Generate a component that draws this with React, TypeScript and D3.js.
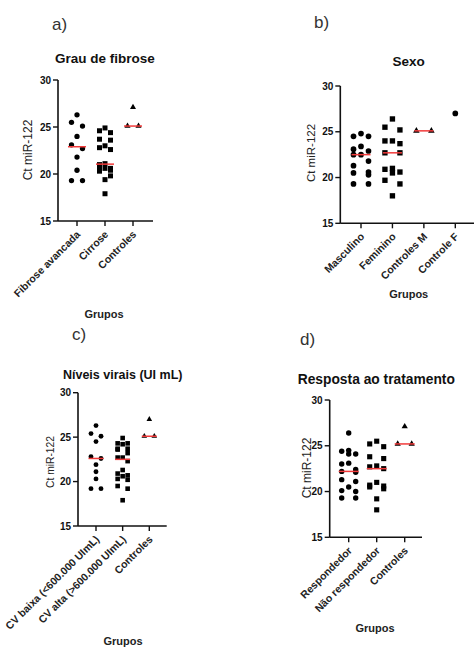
import React from 'react'
import * as d3 from 'd3'

const W = 474
const H = 647
const FONT = "'Liberation Sans', Arial, sans-serif"
const RED = '#f23a3a'

const yTicks = [15, 20, 25, 30]

// a) Grau de fibrose
const fibroseGroups = ['Fibrose avancada', 'Cirrose', 'Controles']
const fibroseAvancada = [26.3, 25.5, 25.1, 24.0, 23.1, 22.7, 21.8, 20.4, 19.3, 19.3]
const cirrose = [24.9, 24.6, 24.4, 23.7, 23.6, 23.0, 22.8, 22.6, 21.1, 21.0, 20.6, 20.6, 20.5, 20.4, 20.3, 19.8, 19.4, 17.9]
const controlesA = [27.1, 25.1, 25.1]

// b) Sexo
const sexoGroups = ['Masculino', 'Feminino', 'Controles M', 'Controle F']
const masculino = [24.8, 24.5, 24.5, 23.4, 23.1, 22.9, 22.5, 22.5, 21.8, 21.3, 20.6, 20.5, 20.3, 19.3, 19.3]
const feminino = [26.4, 25.5, 25.2, 24.0, 24.0, 23.7, 22.7, 22.7, 21.0, 20.9, 20.6, 20.5, 19.7, 19.3, 18.0]
const controlesM = [25.1, 25.1]
const controleF = [27.0]

// c) Niveis virais
const viraisGroups = ['CV baixa (<600.000 UImL)', 'CV alta (>600.000 UImL)', 'Controles']
const cvBaixa = [26.3, 25.4, 25.1, 24.5, 22.8, 22.6, 21.9, 21.1, 20.3, 19.2, 19.2]
const cvAlta = [24.9, 24.3, 24.3, 24.2, 23.7, 23.7, 23.6, 23.2, 22.7, 22.7, 22.3, 21.3, 20.9, 20.7, 20.6, 20.3, 20.2, 19.5, 19.2, 17.9]
const controlesC = [27.0, 25.1, 25.1]

// d) Resposta ao tratamento
const respostaGroups = ['Respondedor', 'Não respondedor', 'Controles']
const respondedor = [26.4, 24.5, 24.4, 24.1, 24.1, 23.1, 23.0, 22.4, 22.2, 22.1, 21.3, 21.1, 20.5, 20.1, 20.0, 19.3, 19.3]
const naoRespondedor = [25.5, 25.2, 24.9, 23.8, 23.6, 22.8, 22.7, 22.5, 21.0, 20.7, 20.6, 20.5, 20.3, 19.2, 18.0]
const controlesD = [27.1, 25.2, 25.2]

// rows of up to 3 points, spread sideways like a prism scatter
const swarm = (values, yScale, sp, gap = 6.5) => {
  const sorted = [...values].sort((a, b) => b - a)
  const rows = []
  sorted.forEach(v => {
    const row = rows[rows.length - 1]
    if (row && row.length < 3 && Math.abs(yScale(v) - yScale(row[0])) < gap) row.push(v)
    else rows.push([v])
  })
  return rows.flatMap(row => {
    const cols = row.length === 1 ? [0] : row.length === 2 ? [-1, 1] : [0, -1, 1]
    return row.map((v, i) => ({ v, dx: cols[i] * sp }))
  })
}

const symbolArea = { circle: 22, square: 25, triangle: 16 }
const symbolType = { circle: d3.symbolCircle, square: d3.symbolSquare, triangle: d3.symbolTriangle }

const Panel = ({ letter, title, groups, series, L }) => {
  const y = d3.scaleLinear().domain([15, 30]).range([L.y15, L.y30])
  const x = d3.scalePoint().domain(groups).range([L.x0, L.x1])

  return (
    <g style={{ fontFamily: FONT }}>
      <text x={L.letterX} y={L.letterY} fontSize={17} fill="#333">{letter}</text>
      <text x={L.titleX} y={L.titleY} fontSize={L.titleSize} fontWeight="bold" textAnchor="middle" fill="#111">{title}</text>

      {/* y axis */}
      <line x1={L.axisX} x2={L.axisX} y1={y(30)} y2={y(15)} stroke="#111" strokeWidth={1.6} />
      {yTicks.map(t => (
        <g key={t}>
          <line x1={L.axisX - 5} x2={L.axisX} y1={y(t)} y2={y(t)} stroke="#111" strokeWidth={1.4} />
          <text x={L.axisX - 7} y={y(t)} dy="0.35em" textAnchor="end" fontSize={10} fontWeight="bold" fill="#111">{t}</text>
        </g>
      ))}
      <text transform={`translate(${L.ylabelX}, ${L.ylabelY}) rotate(-90)`} dy="0.35em" textAnchor="middle" fontSize={L.ylabelSize} fill="#222">Ct miR-122</text>

      {/* x axis */}
      <line x1={L.axisX} x2={L.axisEnd} y1={y(15)} y2={y(15)} stroke="#111" strokeWidth={1.6} />
      {groups.map(g => (
        <g key={g}>
          <line x1={x(g)} x2={x(g)} y1={y(15)} y2={y(15) + 5} stroke="#111" strokeWidth={1.4} />
          <text transform={`translate(${x(g) + 4}, ${y(15) + 14}) rotate(-45)`} textAnchor="end" fontSize={L.tickSize} fontWeight="bold" fill="#222">{g}</text>
        </g>
      ))}
      <text x={L.gruposX} y={L.gruposY} textAnchor="middle" fontSize={11} fontWeight="bold" fill="#222">Grupos</text>

      {/* points and medians */}
      {series.map((s, gi) => {
        const cx = x(groups[gi])
        const pts = swarm(s.values, y, L.sp)
        const path = d3.symbol().type(symbolType[s.shape]).size(symbolArea[s.shape] * L.ms)()
        const med = d3.median(s.values)
        return (
          <g key={gi}>
            {pts.map((p, i) => (
              <path key={i} d={path} transform={`translate(${cx + p.dx}, ${y(p.v)})`} fill="#000" />
            ))}
            {s.values.length > 1 && (
              <line x1={cx - L.medW / 2} x2={cx + L.medW / 2} y1={y(med)} y2={y(med)} stroke={RED} strokeWidth={1.5} />
            )}
          </g>
        )
      })}
    </g>
  )
}

const layoutA = { axisX: 58, y15: 221, y30: 80, x0: 77, x1: 133, axisEnd: 153, sp: 5.5, ms: 1.0, medW: 18, titleX: 105, titleY: 63, titleSize: 13.5, letterX: 52, letterY: 30, ylabelX: 28, ylabelY: 150, ylabelSize: 12, gruposX: 104, gruposY: 318, tickSize: 10.5 }
const layoutB = { axisX: 340.3, y15: 223.3, y30: 86, x0: 361, x1: 455.3, axisEnd: 480, sp: 7.5, ms: 1.15, medW: 19, titleX: 408.7, titleY: 66, titleSize: 13.5, letterX: 314, letterY: 28, ylabelX: 311, ylabelY: 153, ylabelSize: 11.5, gruposX: 408.7, gruposY: 298, tickSize: 10.5 }
const layoutC = { axisX: 78, y15: 526, y30: 392.7, x0: 96, x1: 149.3, axisEnd: 166.7, sp: 5, ms: 0.85, medW: 15, titleX: 122.7, titleY: 379, titleSize: 12.5, letterX: 72, letterY: 340, ylabelX: 50, ylabelY: 462, ylabelSize: 10.3, gruposX: 123, gruposY: 645, tickSize: 10.5 }
const layoutD = { axisX: 329.7, y15: 537.3, y30: 400, x0: 348.7, x1: 404.7, axisEnd: 422, sp: 7, ms: 1.05, medW: 20, titleX: 376.3, titleY: 384, titleSize: 13.8, letterX: 300, letterY: 345, ylabelX: 307, ylabelY: 468, ylabelSize: 12, gruposX: 375, gruposY: 632, tickSize: 10.5 }

const App = () => (
  <div style={{ position: 'absolute', left: 0, top: 0 }}>
    <svg width={W} height={H} style={{ display: 'block', background: '#fff' }}>
      <Panel letter="a)" title="Grau de fibrose" groups={fibroseGroups} L={layoutA}
        series={[{ values: fibroseAvancada, shape: 'circle' }, { values: cirrose, shape: 'square' }, { values: controlesA, shape: 'triangle' }]} />
      <Panel letter="b)" title="Sexo" groups={sexoGroups} L={layoutB}
        series={[{ values: masculino, shape: 'circle' }, { values: feminino, shape: 'square' }, { values: controlesM, shape: 'triangle' }, { values: controleF, shape: 'circle' }]} />
      <Panel letter="c)" title="Níveis virais (UI mL)" groups={viraisGroups} L={layoutC}
        series={[{ values: cvBaixa, shape: 'circle' }, { values: cvAlta, shape: 'square' }, { values: controlesC, shape: 'triangle' }]} />
      <Panel letter="d)" title="Resposta ao tratamento" groups={respostaGroups} L={layoutD}
        series={[{ values: respondedor, shape: 'circle' }, { values: naoRespondedor, shape: 'square' }, { values: controlesD, shape: 'triangle' }]} />
    </svg>
  </div>
)

export default App
